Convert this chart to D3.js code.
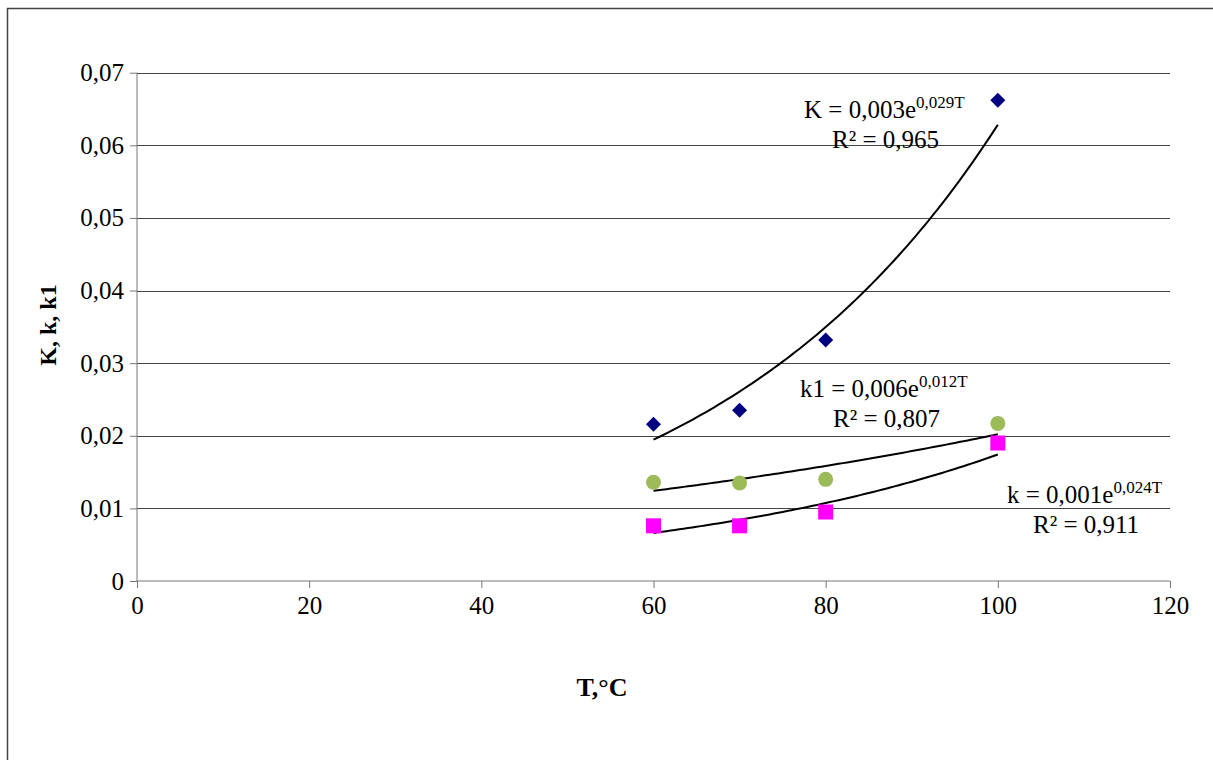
<!DOCTYPE html>
<html><head><meta charset="utf-8">
<script src="https://cdn.jsdelivr.net/npm/d3@7"></script>
<style>body{margin:0;background:#fff}svg{display:block}text{font-family:"Liberation Serif","Times New Roman",serif;fill:#000}</style>
</head><body><svg id="c" width="1213" height="760"></svg>
<script>
const temps = [60, 70, 80, 100];
const seriesK = [0.0216, 0.0235, 0.0332, 0.0662];
const seriesK1 = [0.0136, 0.0135, 0.0140, 0.0217];
const seriesk = [0.0076, 0.0076, 0.0095, 0.0190];
const xTicks = [0, 20, 40, 60, 80, 100, 120];
const yTicks = [0, 0.01, 0.02, 0.03, 0.04, 0.05, 0.06, 0.07];
const yTickLabels = ["0", "0,01", "0,02", "0,03", "0,04", "0,05", "0,06", "0,07"];
const eqK = ["K = 0,003e", "0,029T", "R² = 0,965"];
const eqK1 = ["k1 = 0,006e", "0,012T", "R² = 0,807"];
const eqk = ["k = 0,001e", "0,024T", "R² = 0,911"];

const svg = d3.select("#c");
svg.append("rect").attr("x", 7.5).attr("y", 8.5).attr("width", 1300).attr("height", 900)
  .attr("fill", "#fff").attr("stroke", "#444").attr("stroke-width", 1.5);

const x = d3.scaleLinear().domain([0, 120]).range([137, 1170]);
const y = d3.scaleLinear().domain([0, 0.07]).range([581, 72.7]);

// gridlines
svg.append("g").selectAll("line").data(yTicks.slice(1)).join("line")
  .attr("x1", x(0)).attr("x2", x(120)).attr("y1", d => Math.round(y(d)) + 0.5).attr("y2", d => Math.round(y(d)) + 0.5)
  .attr("stroke", "#444").attr("stroke-width", 1);

// y axis
const ya = svg.append("g").attr("transform", `translate(${x(0)},0)`)
  .call(d3.axisLeft(y).tickValues(yTicks).tickFormat((d, i) => yTickLabels[i]).tickSize(7).tickPadding(6));
ya.selectAll("text").style("font-size", "25px").style("font-family", "Liberation Serif");
ya.selectAll("path,line").attr("stroke", "#777");
ya.select(".domain").attr("d", `M0,${y(0.07)}V${y(0)}`);

// x axis
const xa = svg.append("g").attr("transform", `translate(0,${y(0)})`)
  .call(d3.axisBottom(x).tickValues(xTicks).tickFormat(d3.format("d")).tickSize(7).tickPadding(8));
xa.selectAll("text").style("font-size", "25px").style("font-family", "Liberation Serif");
xa.selectAll("path,line").attr("stroke", "#777");
xa.select(".domain").attr("d", `M${x(0)},0H${x(120)}`);

// axis titles
svg.append("text").attr("transform", `translate(56,325) rotate(-90)`).attr("text-anchor", "middle")
  .style("font-size", "24px").style("font-weight", "bold").text("K, k, k1");
svg.append("text").attr("x", 602).attr("y", 696).attr("text-anchor", "middle")
  .style("font-size", "26px").style("font-weight", "bold").text("T,°C");

// exponential fit (least squares on ln y) for trend curves
function expFit(xs, ys) {
  const ly = ys.map(Math.log);
  const mx = d3.mean(xs), my = d3.mean(ly);
  let sxy = 0, sxx = 0;
  xs.forEach((v, i) => { sxy += (v - mx) * (ly[i] - my); sxx += (v - mx) ** 2; });
  const b = sxy / sxx, a = Math.exp(my - b * mx);
  return t => a * Math.exp(b * t);
}
const line = d3.line().x(d => x(d[0])).y(d => y(d[1]));
[seriesK, seriesK1, seriesk].forEach(s => {
  const f = expFit(temps, s);
  const pts = d3.range(60, 100.01, 0.5).map(t => [t, f(t)]);
  svg.append("path").attr("d", line(pts)).attr("fill", "none").attr("stroke", "#000").attr("stroke-width", 2);
});

// markers
const zip = s => temps.map((t, i) => [t, s[i]]);
svg.append("g").selectAll("path").data(zip(seriesK)).join("path")
  .attr("transform", d => `translate(${x(d[0])},${y(d[1])})`)
  .attr("d", "M0,-7.5L7.5,0L0,7.5L-7.5,0Z").attr("fill", "#000080");
svg.append("g").selectAll("circle").data(zip(seriesK1)).join("circle")
  .attr("cx", d => x(d[0])).attr("cy", d => y(d[1])).attr("r", 7.5).attr("fill", "#9BBB59");
svg.append("g").selectAll("rect").data(zip(seriesk)).join("rect")
  .attr("x", d => x(d[0]) - 7.5).attr("y", d => y(d[1]) - 7.5).attr("width", 15).attr("height", 15).attr("fill", "#FF00FF");

// equation labels
function eq(lbl, x0, yb, rx, ry) {
  const t = svg.append("text").attr("x", x0).attr("y", yb).style("font-size", "25px");
  t.append("tspan").text(lbl[0]);
  t.append("tspan").attr("dy", -10).style("font-size", "17px").text(lbl[1]);
  svg.append("text").attr("x", rx).attr("y", ry).style("font-size", "25px").text(lbl[2]);
}
eq(eqK, 804, 118, 832, 148);
eq(eqK1, 800, 397, 833, 427);
eq(eqk, 1007, 503, 1033, 533);
</script></body></html>
